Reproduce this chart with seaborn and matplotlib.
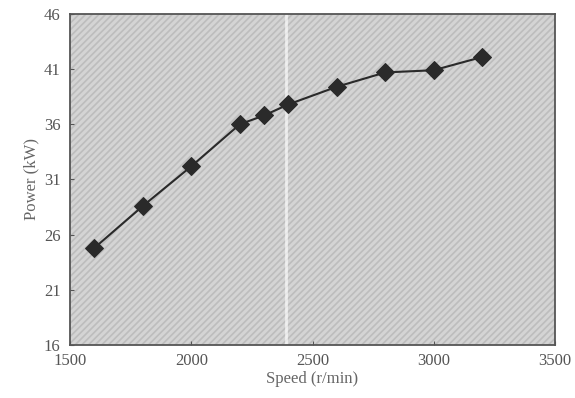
import matplotlib
matplotlib.use("Agg")
import matplotlib.pyplot as plt
import pandas as pd
import seaborn as sns

speed = [1600, 1800, 2000, 2200, 2300, 2400, 2600, 2800, 3000, 3200]
power = [24.8, 28.6, 32.2, 36.0, 36.8, 37.8, 39.4, 40.7, 40.9, 42.1]
x_ticks = [1500, 2000, 2500, 3000, 3500]
y_ticks = [16, 21, 26, 31, 36, 41, 46]

df = pd.DataFrame({"Speed": speed, "Power": power})

sns.set_style("ticks")
plt.rcParams["font.family"] = ["Liberation Serif", "DejaVu Serif"]
plt.rcParams["hatch.linewidth"] = 1.2

fig = plt.figure(figsize=(5.75, 3.98), dpi=100)
ax = fig.add_axes([0.122, 0.133, 0.843, 0.832])

# gris rayado del fondo escaneado
ax.set_facecolor("#d4d4d4")
ax.patch.set_hatch("/////")
ax.patch.set_edgecolor("#bdbdbd")
ax.axvline(2390, color="white", lw=2.0, alpha=0.65, zorder=1)

sns.lineplot(data=df, x="Speed", y="Power", ax=ax, color="#2a2a2a",
             marker="D", markersize=9, markeredgecolor="#2a2a2a",
             linewidth=1.5, zorder=3)

ax.set_xlim(1500, 3500)
ax.set_ylim(16, 46)
ax.set_xticks(x_ticks)
ax.set_yticks(y_ticks)
ax.tick_params(direction="in", length=3, colors="#555555", labelsize=12)
ax.tick_params(axis="x", pad=6)
ax.tick_params(axis="y", pad=7)
for side in ["top", "right", "bottom", "left"]:
    ax.spines[side].set_visible(True)
    ax.spines[side].set_color("#555555")
    ax.spines[side].set_linewidth(1.3)

ax.set_xlabel("Speed (r/min)", fontsize=12, color="#666666", labelpad=1)
ax.set_ylabel("Power (kW)", fontsize=12, color="#666666", labelpad=3)

fig.savefig("out.png", dpi=100)
